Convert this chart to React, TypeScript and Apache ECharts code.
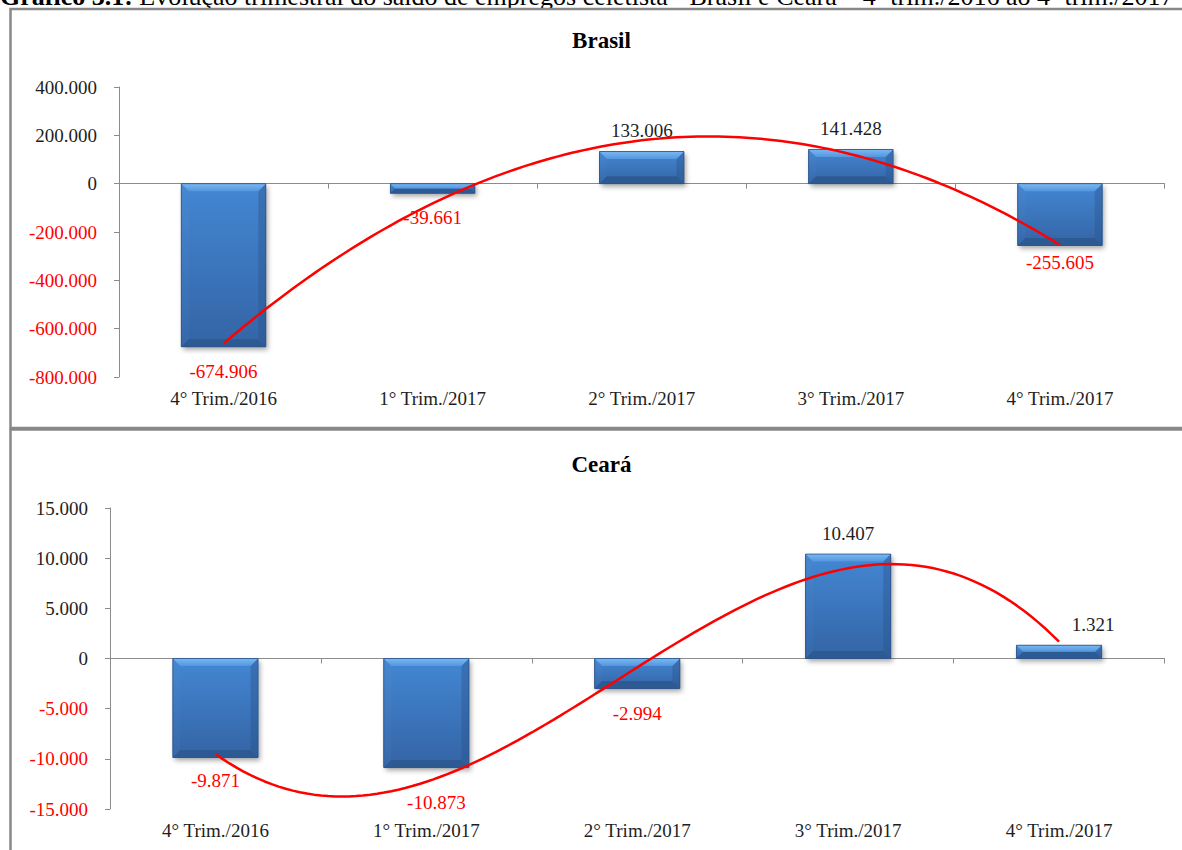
import React, { useEffect, useRef } from 'react';
import * as echarts from 'echarts';

// Quarterly net formal job balance (CAGED) – Brasil and Ceará
const quarters = ['4° Trim./2016', '1° Trim./2017', '2° Trim./2017', '3° Trim./2017', '4° Trim./2017'];
const brasilSaldo = [-674906, -39661, 133006, 141428, -255605];
const cearaSaldo = [-9871, -10873, -2994, 10407, 1321];

// value-axis ranges: [min, max, interval]
const brasilRange = [-800000, 400000, 200000];
const cearaRange = [-15000, 15000, 5000];

// polynomial order of each trendline
const brasilTrendOrder = 2;
const cearaTrendOrder = 3;

const headlineLead = 'Gráfico 3.1:';
const headlineRest = 'Evolução trimestral do saldo de empregos celetista - Brasil e Ceará – 4º trim./2016 ao 4º trim./2017';

// nudges applied to individual value labels [dx, dy]
const brasilLabelNudge = [[0, 0], [0, 0], [0, 0], [0, 0], [0, -7]];
const cearaLabelNudge = [[0, -1.5], [10, 10.5], [0, 0], [0, 0], [34, 0]];

const SERIF = "'Liberation Serif', 'Times New Roman', Times, serif";
const RED = '#ff0000';
const INK = '#1e1e1e';
const AXIS_GRAY = '#8c8c8c';

const fmt = (v: number) =>
  (v < 0 ? '-' : '') + Math.round(Math.abs(v)).toString().replace(/\B(?=(\d{3})+(?!\d))/g, '.');

// least-squares polynomial fit (same idea as a spreadsheet polynomial trendline)
function polyfit(xs: number[], ys: number[], order: number): number[] {
  const n = order + 1;
  const A: number[][] = [];
  for (let i = 0; i < n; i++) {
    const row: number[] = [];
    for (let j = 0; j < n; j++) {
      let s = 0;
      for (const x of xs) s += Math.pow(x, i + j);
      row.push(s);
    }
    let b = 0;
    xs.forEach((x, k) => (b += ys[k] * Math.pow(x, i)));
    row.push(b);
    A.push(row);
  }
  for (let c = 0; c < n; c++) {
    let p = c;
    for (let r = c + 1; r < n; r++) if (Math.abs(A[r][c]) > Math.abs(A[p][c])) p = r;
    [A[c], A[p]] = [A[p], A[c]];
    for (let r = 0; r < n; r++) {
      if (r === c) continue;
      const f = A[r][c] / A[c][c];
      for (let k = c; k <= n; k++) A[r][k] -= f * A[c][k];
    }
  }
  return A.map((row, i) => row[n] / row[i]);
}

function trendCurve(values: number[], order: number): number[][] {
  const xs = values.map((_, i) => i + 1);
  const coef = polyfit(xs, values, order);
  const evalAt = (x: number) => coef.reduce((s, c, i) => s + c * Math.pow(x, i), 0);
  const pts: number[][] = [];
  const steps = 120;
  for (let k = 0; k <= steps; k++) {
    const x = 1 + (4 * k) / steps;
    pts.push([x, evalAt(x)]);
  }
  return pts;
}

function lg(stops: [number, string][]) {
  return new echarts.graphic.LinearGradient(0, 0, 0, 1, stops.map(([offset, color]) => ({ offset, color })));
}

// bevelled bar with its own value label
function bevelBar(nudge: number[][]) {
  return (params: any, api: any) => {
    const idx = api.value(0);
    const v = api.value(1);
    const base = api.coord([idx, 0]);
    const end = api.coord([idx, v]);
    const band = api.size([1, 0])[0];
    const w = band * 0.404;
    const x0 = base[0] - w / 2;
    const x1 = base[0] + w / 2;
    const yT = Math.min(base[1], end[1]);
    const yB = Math.max(base[1], end[1]);
    const h = yB - yT;
    const b = Math.min(7.5, h / 2, w / 2);
    const [dx, dy] = nudge[params.dataIndex] || [0, 0];
    const labelY = v >= 0 ? yT - 21 : yB + 24.5;
    return {
      type: 'group',
      children: [
        {
          type: 'rect',
          shape: { x: x0, y: yT, width: w, height: h },
          style: {
            fill: '#3566a6',
            shadowBlur: 5,
            shadowOffsetX: 2,
            shadowOffsetY: 3,
            shadowColor: 'rgba(0,0,0,0.35)',
          },
        },
        {
          type: 'rect',
          shape: { x: x0, y: yT, width: w, height: h },
          style: { fill: lg([[0, '#4387d3'], [1, '#3464a5']]) },
        },
        {
          type: 'polygon',
          shape: { points: [[x0, yT], [x0 + b, yT + b], [x0 + b, yB - b], [x0, yB]] },
          style: { fill: lg([[0, '#4788d2'], [1, '#3668aa']]) },
        },
        {
          type: 'polygon',
          shape: { points: [[x1, yT], [x1, yB], [x1 - b, yB - b], [x1 - b, yT + b]] },
          style: { fill: lg([[0, '#3a72b6'], [1, '#2e5d9a']]) },
        },
        {
          type: 'polygon',
          shape: { points: [[x0, yB], [x1, yB], [x1 - b, yB - b], [x0 + b, yB - b]] },
          style: { fill: '#2e5a94' },
        },
        {
          type: 'polygon',
          shape: { points: [[x0, yT], [x1, yT], [x1 - b, yT + b], [x0 + b, yT + b]] },
          style: { fill: lg([[0, '#7ab8f3'], [1, '#5396df']]) },
        },
        {
          type: 'rect',
          shape: { x: x0, y: yT, width: w, height: h },
          style: { fill: 'none', stroke: '#2b5287', lineWidth: 0.8 },
        },
        {
          type: 'text',
          x: base[0] + dx,
          y: labelY + dy,
          style: {
            text: fmt(v),
            fill: v < 0 ? RED : INK,
            fontSize: 19,
            fontFamily: SERIF,
            align: 'center',
            verticalAlign: 'middle',
          },
        },
      ],
    };
  };
}

function axesFor(grid: number, range: number[]) {
  const xAxes = [
    {
      type: 'category',
      gridIndex: grid,
      data: quarters,
      position: 'bottom',
      axisLine: { show: false, onZero: false },
      axisTick: { show: false },
      axisLabel: { margin: 12, fontSize: 19, color: INK, fontFamily: SERIF },
    },
    {
      type: 'category',
      gridIndex: grid,
      data: quarters,
      position: 'bottom',
      axisLine: { show: true, onZero: true, lineStyle: { color: AXIS_GRAY, width: 1 } },
      axisTick: { show: true, length: 5, lineStyle: { color: AXIS_GRAY, width: 1 } },
      axisLabel: { show: false },
    },
    { type: 'value', gridIndex: grid, min: 0.5, max: 5.5, show: false },
  ];
  const yAxis = {
    type: 'value',
    gridIndex: grid,
    min: range[0],
    max: range[1],
    interval: range[2],
    axisLine: { show: true, onZero: false, lineStyle: { color: AXIS_GRAY, width: 1 } },
    axisTick: { show: true, length: 5, lineStyle: { color: AXIS_GRAY, width: 1 } },
    splitLine: { show: false },
    axisLabel: {
      margin: 22,
      fontSize: 19,
      fontFamily: SERIF,
      formatter: (val: number) => fmt(val),
      color: (val: any) => (Number(val) < 0 ? RED : INK),
    },
  };
  return { xAxes, yAxis };
}

export default function App() {
  const ref = useRef<HTMLDivElement>(null);

  useEffect(() => {
    document.body.style.margin = '0';
    if (!ref.current) return;
    const chart = echarts.init(ref.current, undefined, { renderer: 'svg' });

    const top = axesFor(0, brasilRange);
    const bottom = axesFor(1, cearaRange);

    chart.setOption({
      animation: false,
      backgroundColor: '#ffffff',
      grid: [
        { left: 119, right: 17.5, top: 87, height: 290 },
        { left: 110, right: 17.5, top: 508, height: 301 },
      ],
      xAxis: [...top.xAxes, ...bottom.xAxes],
      yAxis: [top.yAxis, bottom.yAxis],
      graphic: [
        {
          type: 'text',
          x: 0,
          y: -4,
          style: {
            text: '{b|' + headlineLead + '} ' + headlineRest,
            fill: '#000',
            fontSize: 26,
            fontFamily: SERIF,
            verticalAlign: 'middle',
            rich: { b: { fontWeight: 'bold', fontSize: 26, fontFamily: SERIF, fill: '#000' } },
          },
        },
        {
          type: 'rect',
          shape: { x: 10.5, y: 9, width: 1200, height: 419 },
          style: { fill: 'none', stroke: '#888888', lineWidth: 2.5 },
        },
        {
          type: 'rect',
          shape: { x: 10.5, y: 429.5, width: 1200, height: 450 },
          style: { fill: 'none', stroke: '#888888', lineWidth: 2.5 },
        },
        {
          type: 'text',
          x: 601.5,
          y: 40.5,
          style: {
            text: 'Brasil',
            fill: '#000',
            fontSize: 23,
            fontWeight: 'bold',
            fontFamily: SERIF,
            align: 'center',
            verticalAlign: 'middle',
          },
        },
        {
          type: 'text',
          x: 601.5,
          y: 464,
          style: {
            text: 'Ceará',
            fill: '#000',
            fontSize: 23,
            fontWeight: 'bold',
            fontFamily: SERIF,
            align: 'center',
            verticalAlign: 'middle',
          },
        },
      ],
      series: [
        {
          type: 'custom',
          name: 'Brasil',
          xAxisIndex: 0,
          yAxisIndex: 0,
          z: 2,
          renderItem: bevelBar(brasilLabelNudge),
          data: brasilSaldo.map((v, i) => [i, v]),
        },
        {
          type: 'line',
          name: 'Tendência Brasil',
          xAxisIndex: 2,
          yAxisIndex: 0,
          z: 3,
          showSymbol: false,
          silent: true,
          lineStyle: { color: RED, width: 2.5 },
          data: trendCurve(brasilSaldo, brasilTrendOrder),
        },
        {
          type: 'custom',
          name: 'Ceará',
          xAxisIndex: 3,
          yAxisIndex: 1,
          z: 2,
          renderItem: bevelBar(cearaLabelNudge),
          data: cearaSaldo.map((v, i) => [i, v]),
        },
        {
          type: 'line',
          name: 'Tendência Ceará',
          xAxisIndex: 5,
          yAxisIndex: 1,
          z: 3,
          showSymbol: false,
          silent: true,
          lineStyle: { color: RED, width: 2.5 },
          data: trendCurve(cearaSaldo, cearaTrendOrder),
        },
      ],
    });

    return () => chart.dispose();
  }, []);

  return <div ref={ref} style={{ width: 1182, height: 850 }} />;
}
